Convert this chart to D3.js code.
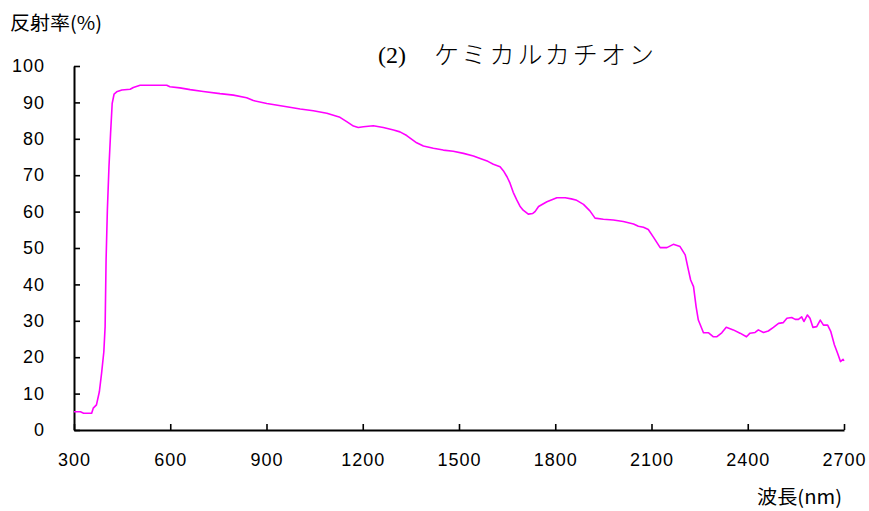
<!DOCTYPE html>
<html>
<head>
<meta charset="utf-8">
<script src="https://cdn.jsdelivr.net/npm/d3@7"></script>
<style>
  body { margin: 0; background: #fff; }
</style>
</head>
<body>
<svg id="chart"></svg>
<script>
// wavelength (nm) and reflectance (%)
var wavelength = [300,320,330,355,360,370,379,386,393,397,400,404,409,414,419,425,433,449,475,485,506,589,599,630,662,703,755,797,838,859,901,963,1005,1046,1088,1129,1150,1171,1186,1202,1233,1264,1296,1316,1337,1368,1389,1420,1451,1482,1514,1545,1566,1590,1607,1628,1640,1650,1659,1669,1680,1690,1700,1716,1730,1737,1748,1774,1805,1831,1850,1867,1888,1908,1924,1950,1981,2012,2044,2059,2075,2090,2106,2127,2148,2168,2189,2205,2215,2222,2231,2239,2246,2262,2278,2293,2303,2319,2333,2355,2376,2396,2407,2423,2433,2449,2464,2480,2496,2511,2522,2537,2548,2558,2568,2575,2586,2594,2603,2615,2626,2636,2649,2659,2670,2680,2689,2697,2700];
var reflectance = [5.0,5.0,4.6,4.6,6.0,6.9,10.5,15.6,21.5,28.4,46.7,60.4,72.3,81.5,89.7,92.3,92.9,93.4,93.6,94.1,94.7,94.7,94.3,94.0,93.5,93.0,92.4,92.0,91.3,90.5,89.7,88.8,88.2,87.7,87.0,85.9,84.7,83.5,83.1,83.3,83.6,83.1,82.4,81.9,80.9,78.9,78.0,77.4,76.9,76.6,76.0,75.3,74.6,73.8,73.0,72.3,71.0,69.5,67.8,65.3,63.2,61.5,60.4,59.3,59.5,60.0,61.4,62.7,63.8,63.8,63.5,63.1,62.0,60.2,58.2,57.9,57.7,57.3,56.6,56.0,55.7,55.1,53.0,50.1,50.1,51.0,50.4,48.1,44.0,41.2,39.4,33.9,30.2,26.7,26.7,25.6,25.6,26.7,28.2,27.5,26.6,25.6,26.6,26.8,27.5,26.8,27.2,28.2,29.3,29.5,30.7,30.9,30.4,30.4,31.1,29.8,31.6,30.7,28.2,28.4,30.2,28.8,28.8,27.0,23.4,21.1,18.8,19.4,19.0];
var xTicks = [300,600,900,1200,1500,1800,2100,2400,2700];
var yTicks = [0,10,20,30,40,50,60,70,80,90,100];
var title = "ケミカルカチオン";

var width = 869, height = 511;
var svg = d3.select("#chart")
    .attr("width", width)
    .attr("height", height);

var x = d3.scaleLinear().domain([300, 2700]).range([74, 844]);
var y = d3.scaleLinear().domain([0, 100]).range([430, 66]);

var data = wavelength.map(function(w, i) { return [w, reflectance[i]]; });

function styleAxis(g) {
  g.select(".domain").attr("stroke-width", 2);
  g.selectAll(".tick line").attr("stroke-width", 1.6);
  g.selectAll("text").attr("font-size", 18).attr("fill", "#000")
    .attr("letter-spacing", 1).attr("font-family", "Liberation Sans");
}

svg.append("g")
    .attr("transform", "translate(74,0)")
    .call(d3.axisLeft(y).tickValues(yTicks).tickSizeInner(-6).tickSizeOuter(0).tickPadding(29))
    .call(styleAxis);

svg.append("g")
    .attr("transform", "translate(0,430)")
    .call(d3.axisBottom(x).tickValues(xTicks).tickFormat(d3.format("d"))
      .tickSizeInner(-6).tickSizeOuter(0).tickPadding(23))
    .call(styleAxis);

var line = d3.line()
    .x(function(d) { return x(d[0]); })
    .y(function(d) { return y(d[1]); });

svg.append("path")
    .datum(data)
    .attr("d", line)
    .attr("fill", "none")
    .attr("stroke", "#ff00ff")
    .attr("stroke-width", 1.6)
    .attr("stroke-linejoin", "round");

// axis titles
svg.append("text")
    .attr("x", 10)
    .attr("y", 30)
    .attr("font-family", "Noto Sans CJK JP")
    .attr("font-size", 19)
    .attr("textLength", 92)
    .attr("lengthAdjust", "spacingAndGlyphs")
    .text("反射率(%)");

svg.append("text")
    .attr("x", 757)
    .attr("y", 504)
    .attr("font-family", "Noto Sans CJK JP")
    .attr("font-size", 19)
    .attr("textLength", 85)
    .attr("lengthAdjust", "spacingAndGlyphs")
    .text("波長(nm)");

// chart title
svg.append("text")
    .attr("x", 378)
    .attr("y", 63)
    .attr("font-family", "Liberation Serif")
    .attr("font-size", 24)
    .text("(2)");

svg.append("text")
    .attr("x", 434)
    .attr("y", 64)
    .attr("font-family", "Noto Sans CJK JP")
    .attr("font-weight", 300)
    .attr("font-size", 25)
    .attr("textLength", 220)
    .attr("lengthAdjust", "spacing")
    .text(title);
</script>
</body>
</html>
